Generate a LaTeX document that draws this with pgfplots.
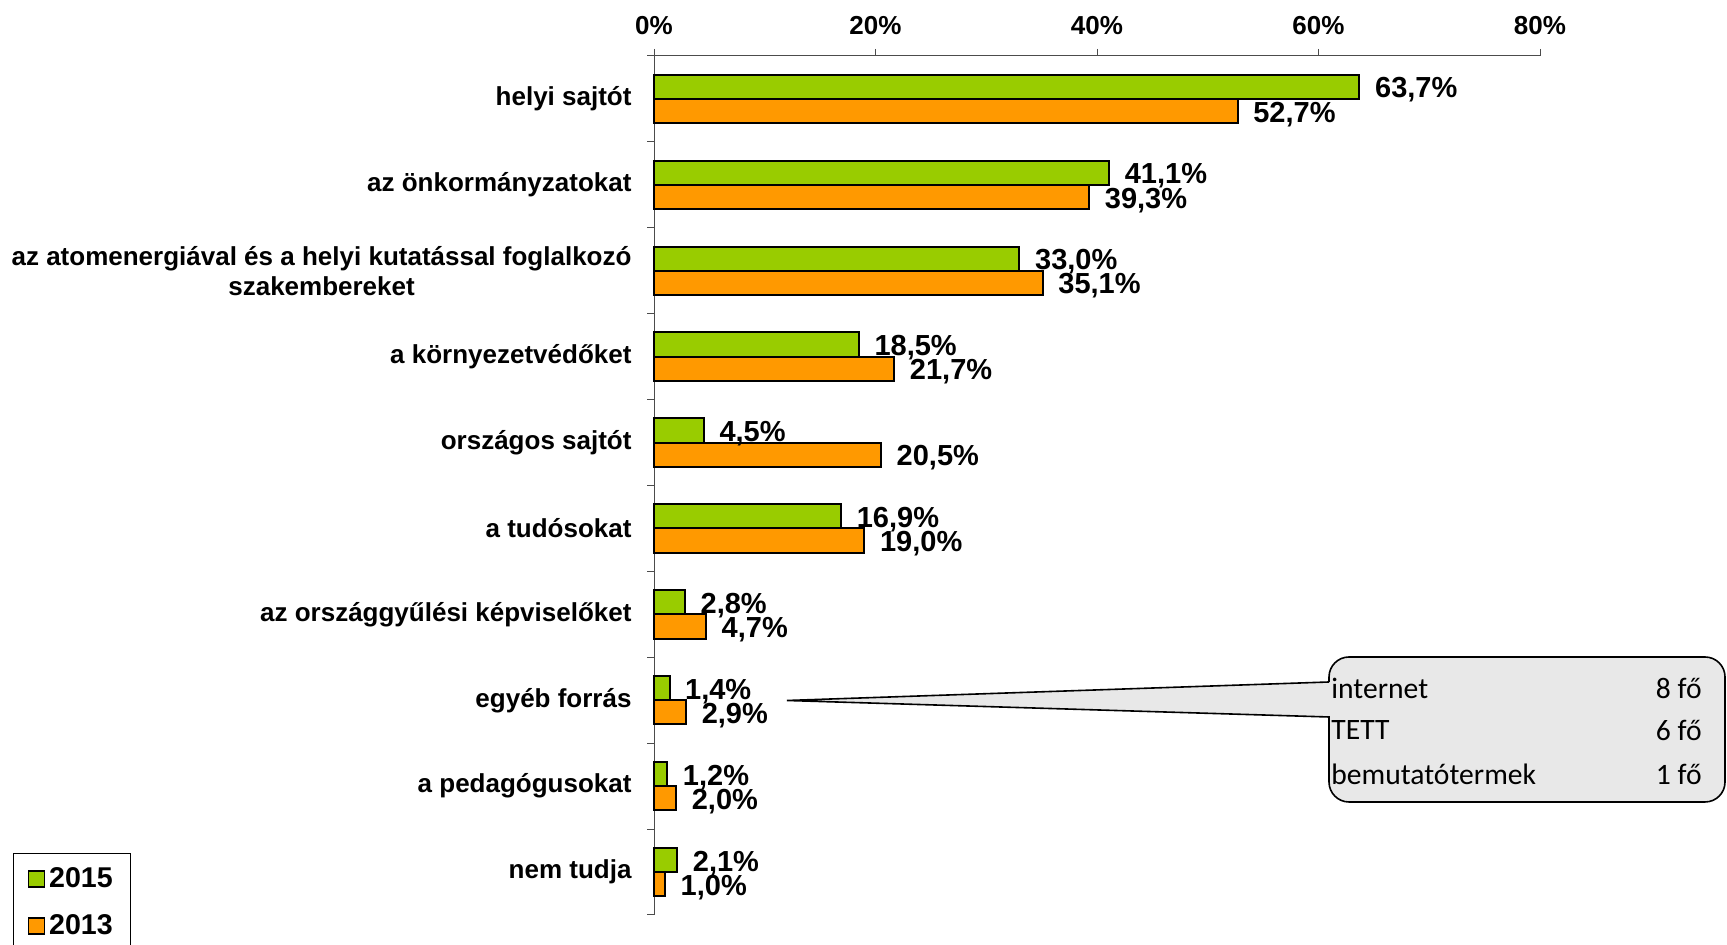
\documentclass[border=0pt]{standalone}
\usepackage{pgfplots}
\pgfplotsset{compat=1.18}
\usepackage{fontspec}
\setmainfont{Liberation Sans}
\newfontfamily\calib{Carlito}
\definecolor{cgreen}{HTML}{99CC00}
\definecolor{corange}{HTML}{FF9900}
\definecolor{cgray}{HTML}{E8E8E8}
\pgfplotsset{
  mylegend/.style={legend image code/.code={\draw[##1, draw=black, line width=0.8pt] (0pt,-4pt) rectangle (8pt,4pt);}}
}
\begin{document}
\begin{tikzpicture}[x=1pt,y=1pt]
\useasboundingbox (0,0) rectangle (863.5,472.5);
\begin{axis}[
  at={(327pt,15pt)}, anchor=south west,
  scale only axis, width=443pt, height=429.5pt,
  xmin=0, xmax=80, ymin=-0.5, ymax=9.5,
  axis x line*=top, axis y line*=left,
  axis line style={line width=0.5pt, black!70},
  /pgf/number format/assume math mode=true,
  xbar, bar width=0.282,
  tick align=outside, major tick length=3.5pt,
  tick style={line width=0.5pt, black!70},
  xtick={0,20,40,60,80},
  xticklabels={0\%,20\%,40\%,60\%,80\%},
  xticklabel style={font=\bfseries\fontsize{13}{15}\selectfont, yshift=3.8pt},
  ytick={-0.5,0.5,...,9.5},
  yticklabels={,,,,,,,,,,},
  extra y ticks={0,1,2,3,4,5,6,7,8,9},
  extra y tick labels={nem tudja, a pedagógusokat, egyéb forrás, az országgyűlési képviselőket, a tudósokat, országos sajtót, a környezetvédőket, {az atomenergiával és a helyi kutatással foglalkozó\\szakembereket}, az önkormányzatokat, helyi sajtót},
  extra y tick style={major tick length=0pt},
  yticklabel style={align=center, font=\bfseries\fontsize{13}{15}\selectfont, xshift=-7.7pt},
  point meta=x,
  nodes near coords={\pgfmathprintnumber[fixed, fixed zerofill, precision=1, use comma]{\pgfplotspointmeta}\%},
  nodes near coords style={anchor=west, xshift=4pt, yshift=-1.6pt, font=\bfseries\fontsize{14.5}{16}\selectfont, text=black},
  legend style={at={(-0.7235,0.0722)}, anchor=north west, draw=black, line width=0.6pt,
    font=\bfseries\fontsize{14.3}{16}\selectfont, inner xsep=7pt, inner ysep=5pt, row sep=8pt},
  legend cell align=left,
  clip=false,
]
\addplot[fill=cgreen, draw=black, line width=1pt, bar shift=0.141, mylegend] coordinates {
(63.7,9) (41.1,8) (33.0,7) (18.5,6) (4.5,5) (16.9,4) (2.8,3) (1.4,2) (1.2,1) (2.1,0)};
\addplot[fill=corange, draw=black, line width=1pt, bar shift=-0.141, mylegend] coordinates {
(52.7,9) (39.3,8) (35.1,7) (21.7,6) (20.5,5) (19.0,4) (4.7,3) (2.9,2) (2.0,1) (1.0,0)};
\legend{2015,2013}
\end{axis}
\draw[fill=cgray, line width=0.8pt] (664.5,131.5) -- (393.5,122.25) -- (664.5,114) [rounded corners=10pt] -- (664.5,71.5) -- (862.5,71.5) -- (862.5,144) -- (664.5,144) -- (664.5,131.5);
\begin{scope}[font=\calib\fontsize{14.8}{17}\selectfont]
\node[anchor=west, inner sep=0pt] at (665.5,128.5) {internet};
\node[anchor=west, inner sep=0pt] at (665.5,107.5) {TETT};
\node[anchor=west, inner sep=0pt] at (665.5,85.5) {bemutatótermek};
\node[anchor=east, inner sep=0pt] at (851,128.5) {8 fő};
\node[anchor=east, inner sep=0pt] at (851,107.5) {6 fő};
\node[anchor=east, inner sep=0pt] at (851,85.5) {1 fő};
\end{scope}
\end{tikzpicture}
\end{document}
